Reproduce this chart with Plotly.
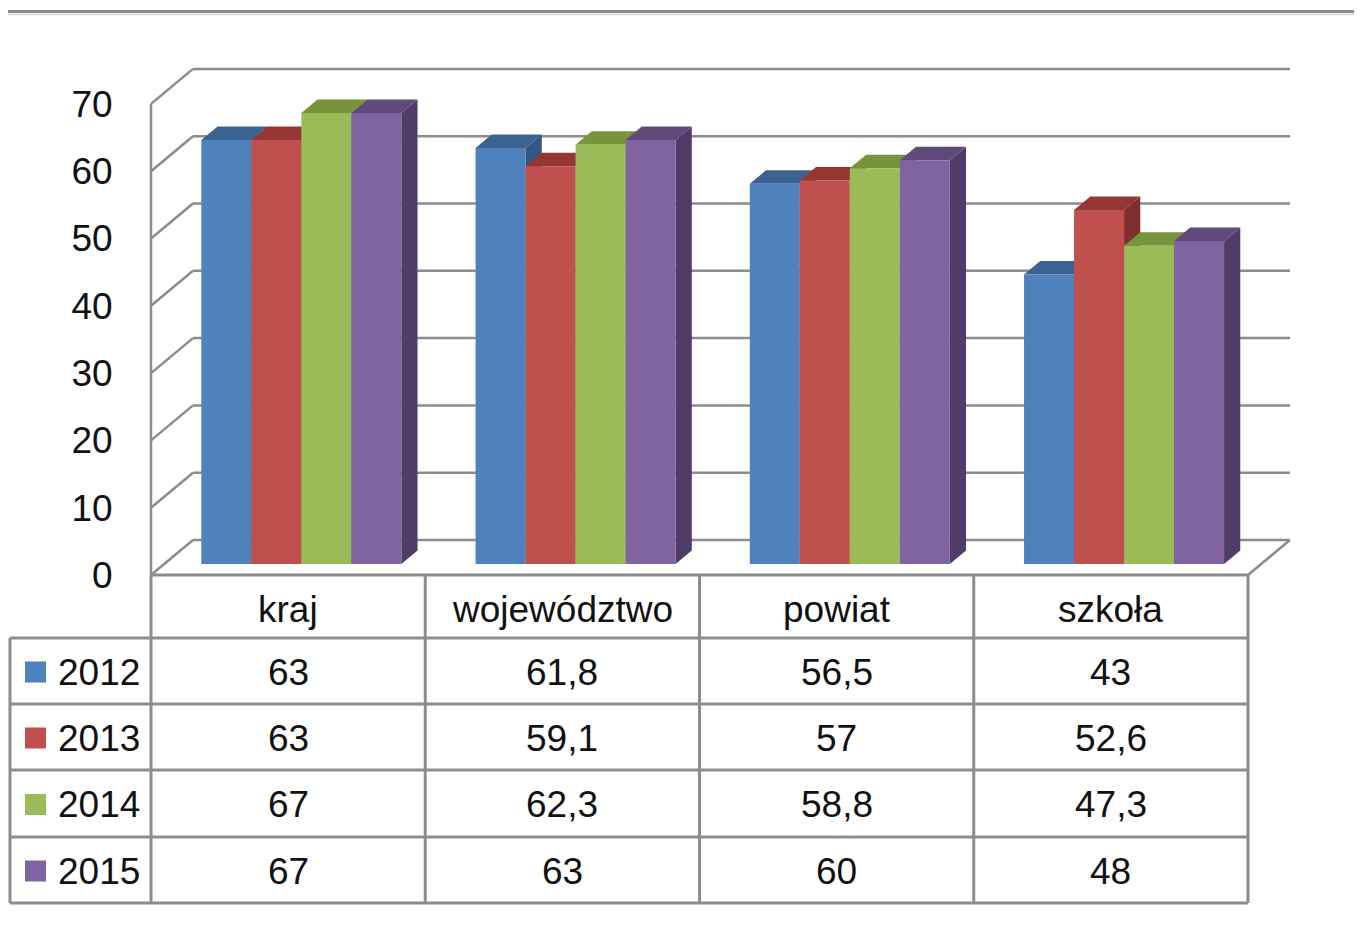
import plotly.graph_objects as go

# ---------------- data ----------------
categories = ["kraj", "województwo", "powiat", "szkoła"]
years = ["2012", "2013", "2014", "2015"]
v2012 = [63, 61.8, 56.5, 43]
v2013 = [63, 59.1, 57, 52.6]
v2014 = [67, 62.3, 58.8, 47.3]
v2015 = [67, 63, 60, 48]
series_values = [v2012, v2013, v2014, v2015]
y_ticks = [0, 10, 20, 30, 40, 50, 60, 70]

# ---------------- style ----------------
front_colors = ["#4F81BD", "#C0504D", "#9BBB59", "#8064A2"]
top_colors = ["#3B6392", "#943634", "#77933C", "#5F4A7B"]
side_colors = ["#345683", "#7F302E", "#637B33", "#4F3D67"]
GRID = "#8C8C8C"
FONT = "Liberation Sans, Arial, sans-serif"
FS = 37

OFF = 8                       # page body margin
W, H = 1362 - 2 * OFF, 928 - 2 * OFF
PPX = 274.25          # px per category unit
PPY = 6.73            # px per value unit
X0PX, Y0PX = 151, 575 # screen px of x=-0.5 and y=0 (front plane)
DXU = 42 / PPX        # depth offset in x units
DYU = 35 / PPY        # depth offset in y units
FA, FB = 0.314, 0.70  # bar depth fractions (front, back)
BW = 50 / PPX         # bar width
GW = 4 * BW
L, R, T, B = 140, 1300, 55, 585   # plot area in screen px

xr = [-0.5 + (L - X0PX) / PPX, -0.5 + (R - X0PX) / PPX]
yr = [(Y0PX - B) / PPY, (Y0PX - T) / PPY]


def xpx(x):
    return X0PX + (x + 0.5) * PPX


def ppx(px):
    return (px - L) / (R - L)


def ppy(py):
    return (B - py) / (B - T)


fig = go.Figure()

# ---------------- 3D bars as polygons ----------------
ymax_tick = max(y_ticks)
for k, vals in enumerate(series_values):
    sx, sy, tx, ty, fx, fy = [], [], [], [], [], []
    for i, v in enumerate(vals):
        x0 = i - GW / 2 + k * BW + FA * DXU
        x1 = x0 + BW
        yb = FA * DYU
        yt = v + FA * DYU
        ddx = (FB - FA) * DXU
        ddy = (FB - FA) * DYU
        sx += [x1, x1, x1 + ddx, x1 + ddx, x1, None]
        sy += [yb, yt, yt + ddy, yb + ddy, yb, None]
        tx += [x0, x1, x1 + ddx, x0 + ddx, x0, None]
        ty += [yt, yt, yt + ddy, yt + ddy, yt, None]
        fx += [x0, x1, x1, x0, x0, None]
        fy += [yb, yb, yt, yt, yb, None]
    for xs, ys, col, nm in [(sx, sy, side_colors[k], "side"),
                            (tx, ty, top_colors[k], "top"),
                            (fx, fy, front_colors[k], years[k])]:
        fig.add_trace(go.Scatter(
            x=xs, y=ys, mode="lines", fill="toself", fillcolor=col,
            line=dict(width=0, color=col), name=nm, showlegend=False,
            hoverinfo="skip"))

# ---------------- walls / gridlines ----------------
shapes = []
n = len(categories)
xl, xrgt = -0.5, n - 0.5
for v in y_ticks:
    shapes.append(dict(type="line", xref="x", yref="y", layer="below",
                       x0=xl + DXU, x1=xrgt + DXU, y0=v + DYU, y1=v + DYU,
                       line=dict(color=GRID, width=2.5)))
    shapes.append(dict(type="line", xref="x", yref="y", layer="below",
                       x0=xl, x1=xl + DXU, y0=v, y1=v + DYU,
                       line=dict(color=GRID, width=2.5)))
shapes.append(dict(type="line", xref="x", yref="y", layer="below",
                   x0=xl, x1=xl, y0=0, y1=ymax_tick,
                   line=dict(color=GRID, width=2.5)))
shapes.append(dict(type="line", xref="x", yref="y", layer="below",
                   x0=xrgt, x1=xrgt + DXU, y0=0, y1=DYU,
                   line=dict(color=GRID, width=2.5)))

# ---------------- data table ----------------
row_lines = [575, 638, 704, 770, 837, 903]
tab_left = 10
col_bounds = [xpx(i - 0.5) for i in range(n + 1)]
lw = 3
shapes.append(dict(type="line", xref="paper", yref="paper",
                   x0=ppx(col_bounds[0]), x1=ppx(col_bounds[-1]),
                   y0=ppy(row_lines[0]), y1=ppy(row_lines[0]),
                   line=dict(color=GRID, width=lw)))
for ry in row_lines[1:]:
    shapes.append(dict(type="line", xref="paper", yref="paper",
                       x0=ppx(tab_left), x1=ppx(col_bounds[-1]),
                       y0=ppy(ry), y1=ppy(ry),
                       line=dict(color=GRID, width=lw)))
for cx in col_bounds:
    shapes.append(dict(type="line", xref="paper", yref="paper",
                       x0=ppx(cx), x1=ppx(cx),
                       y0=ppy(row_lines[0]), y1=ppy(row_lines[-1]),
                       line=dict(color=GRID, width=lw)))
shapes.append(dict(type="line", xref="paper", yref="paper",
                   x0=ppx(tab_left), x1=ppx(tab_left),
                   y0=ppy(row_lines[1]), y1=ppy(row_lines[-1]),
                   line=dict(color=GRID, width=lw)))

# top decorative rule
shapes.append(dict(type="line", xref="paper", yref="paper",
                   x0=ppx(OFF), x1=ppx(1362), y0=ppy(11.5), y1=ppy(11.5),
                   line=dict(color="#8A8A8A", width=3)))
shapes.append(dict(type="line", xref="paper", yref="paper",
                   x0=ppx(OFF), x1=ppx(1362), y0=ppy(14.5), y1=ppy(14.5),
                   line=dict(color="#D0D0D0", width=1.5)))

annotations = []
for i, c in enumerate(categories):
    annotations.append(dict(x=ppx(xpx(i)), y=ppy((row_lines[0] + row_lines[1]) / 2 + 3),
                            xref="paper", yref="paper", text=c, showarrow=False,
                            xanchor="center", yanchor="middle",
                            font=dict(family=FONT, size=FS, color="#111111")))


def fmt(v):
    return f"{v:g}".replace(".", ",")


for k, vals in enumerate(series_values):
    yc = (row_lines[k + 1] + row_lines[k + 2]) / 2 + 1
    shapes.append(dict(type="rect", xref="paper", yref="paper",
                       x0=ppx(25), x1=ppx(46), y0=ppy(yc - 10.5), y1=ppy(yc + 10.5),
                       fillcolor=front_colors[k], line=dict(width=0)))
    annotations.append(dict(x=ppx(56), y=ppy(yc), xref="paper", yref="paper",
                            text=years[k], showarrow=False,
                            xanchor="left", yanchor="middle",
                            font=dict(family=FONT, size=FS, color="#111111")))
    for i, v in enumerate(vals):
        annotations.append(dict(x=ppx(xpx(i)), y=ppy(yc), xref="paper", yref="paper",
                                text=fmt(v), showarrow=False,
                                xanchor="center", yanchor="middle",
                                font=dict(family=FONT, size=FS, color="#111111")))

fig.update_layout(
    width=W, height=H,
    margin=dict(l=L - OFF, r=W - (R - OFF), t=T - OFF, b=H - (B - OFF), pad=0),
    paper_bgcolor="white", plot_bgcolor="white",
    showlegend=False,
    shapes=shapes, annotations=annotations,
    xaxis=dict(range=xr, visible=False, showgrid=False, zeroline=False, fixedrange=True),
    yaxis=dict(range=yr, tickmode="array", tickvals=y_ticks,
               ticktext=[str(t) for t in y_ticks],
               showgrid=False, zeroline=False, showline=False,
               ticks="outside", ticklen=19, tickcolor="rgba(0,0,0,0)",
               tickfont=dict(family=FONT, size=FS, color="#111111"),
               fixedrange=True),
)

fig.write_html("out.html")
